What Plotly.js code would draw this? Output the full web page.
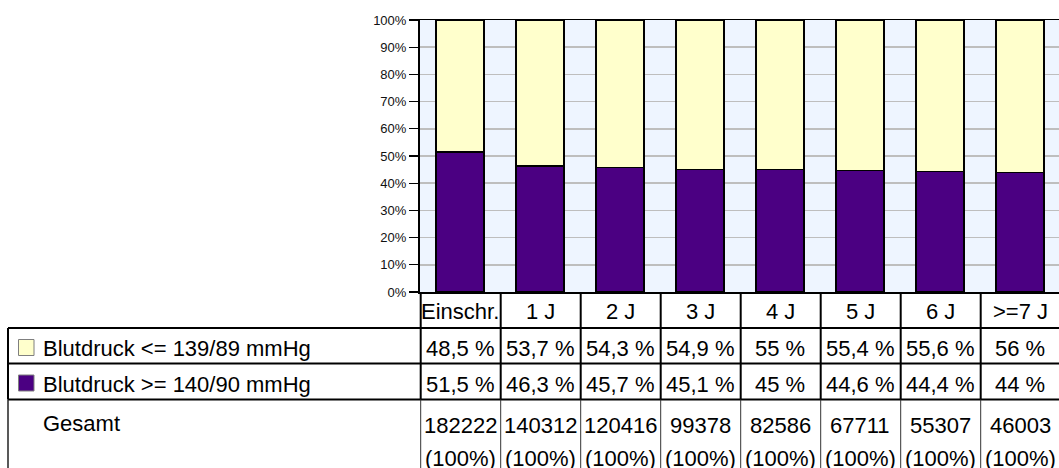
<!DOCTYPE html>
<html><head><meta charset="utf-8">
<script src="https://cdn.plot.ly/plotly-3.0.1.min.js"></script>
<style>html,body{margin:0;padding:0;overflow:hidden;background:#fff}</style>
</head><body><div id="chart" style="width:1059px;height:468px"></div>
<script>
// ---- data ----
const categories = ['Einschr.', '1 J', '2 J', '3 J', '4 J', '5 J', '6 J', '>=7 J'];
const seriesLow = 'Blutdruck <= 139/89 mmHg';
const seriesHigh = 'Blutdruck >= 140/90 mmHg';
const lowBP = [48.5, 53.7, 54.3, 54.9, 55, 55.4, 55.6, 56];
const highBP = [51.5, 46.3, 45.7, 45.1, 45, 44.6, 44.4, 44];
const totals = [182222, 140312, 120416, 99378, 82586, 67711, 55307, 46003];
const totalRowLabel = 'Gesamt';
const totalShareLabel = '(100%)';

// ---- style / layout ----
const colLow = '#FFFFCC', colHigh = '#4B0082';
const W = 1059, H = 468, L = 420, R = 0, T = 20, B = 176;
const plotW = W - L - R, plotH = H - T - B, plotBottom = T + plotH;
const catPx = 80;
const px = p => (p - L) / plotW;
const py = p => (plotBottom - p) / plotH;
const fontFam = 'Liberation Sans, Arial, sans-serif';
const tFont = {family: fontFam, size: 22, color: '#000'};
const fmtPct = v => String(v).replace('.', ',') + ' %';

const traces = [
  {type: 'bar', name: seriesHigh, x: categories, y: highBP, width: 0.6,
   marker: {color: colHigh, line: {color: '#000', width: 1.2}}, hoverinfo: 'skip'},
  {type: 'bar', name: seriesLow, x: categories, y: lowBP, width: 0.6,
   marker: {color: colLow, line: {color: '#000', width: 1.2}}, hoverinfo: 'skip'}
];

const shapes = [];
const annotations = [];
const line = (x0, y0, x1, y1, w, c) => shapes.push({type: 'line', xref: 'paper', yref: 'paper',
  x0: px(x0), y0: py(y0), x1: px(x1), y1: py(y1), line: {color: c || '#000', width: w}});

// table rows
const yHeadTop = plotBottom, yR1 = 328, yR2 = 363.5, yR3 = 399.5, yEnd = 470;
line(8, yR1, W + 2, yR1, 2);
line(8, yR2, W + 2, yR2, 2);
line(8, yR3, W + 2, yR3, 2);
line(8, yR1, 8, yR3, 2);
line(8, yR3, 8, yEnd, 1.5, '#222');
for (let i = 0; i <= categories.length; i++) {
  const xb = L + 0.7 + i * catPx;
  line(xb, yHeadTop, xb, yR3, 2);
  line(xb, yR3, xb, yEnd, 1, '#333');
}

// swatches
shapes.push({type: 'rect', xref: 'paper', yref: 'paper', x0: px(18.5), x1: px(34), y0: py(339.5), y1: py(355.5),
  fillcolor: colLow, line: {color: '#7F7F7F', width: 1}});
shapes.push({type: 'rect', xref: 'paper', yref: 'paper', x0: px(18.5), x1: px(34), y0: py(375), y1: py(391),
  fillcolor: colHigh, line: {color: '#7F7F7F', width: 1}});

const ann = (text, x, xref, y, xanchor) => annotations.push({text, x, xref, y: py(y), yref: 'paper',
  xanchor: xanchor || 'center', yanchor: 'middle', showarrow: false, font: tFont});

ann(seriesLow, px(41), 'paper', 348, 'left');
ann(seriesHigh, px(41), 'paper', 384, 'left');
ann(totalRowLabel, px(41), 'paper', 423.5, 'left');

categories.forEach((c, i) => {
  ann(c, i, 'x', 311.5);
  ann(fmtPct(lowBP[i]), i, 'x', 348.5);
  ann(fmtPct(highBP[i]), i, 'x', 384.5);
  ann(String(totals[i]), i, 'x', 425.5);
  ann(totalShareLabel, i, 'x', 458.5);
});

const layout = {
  width: W, height: H,
  margin: {l: L, r: R, t: T, b: B, pad: 0},
  paper_bgcolor: '#fff', plot_bgcolor: '#EEF5FF',
  barmode: 'stack', showlegend: false,
  xaxis: {type: 'category', range: [-0.5, -0.5 + plotW / catPx], showticklabels: false, ticks: '',
    showgrid: false, showline: true, linecolor: '#000', linewidth: 1.5, mirror: true, zeroline: false, fixedrange: true},
  yaxis: {range: [0, 100], dtick: 10, ticksuffix: '%', ticks: 'outside', ticklen: 9, tickwidth: 1.2, tickcolor: '#000',
    showgrid: true, gridcolor: '#BEBEBE', gridwidth: 1.5, showline: true, linecolor: '#000', linewidth: 2,
    zeroline: false, tickfont: {family: fontFam, size: 13, color: '#111'}, fixedrange: true},
  shapes, annotations
};

Plotly.newPlot('chart', traces, layout, {staticPlot: true, displayModeBar: false});
</script>
</body></html>
